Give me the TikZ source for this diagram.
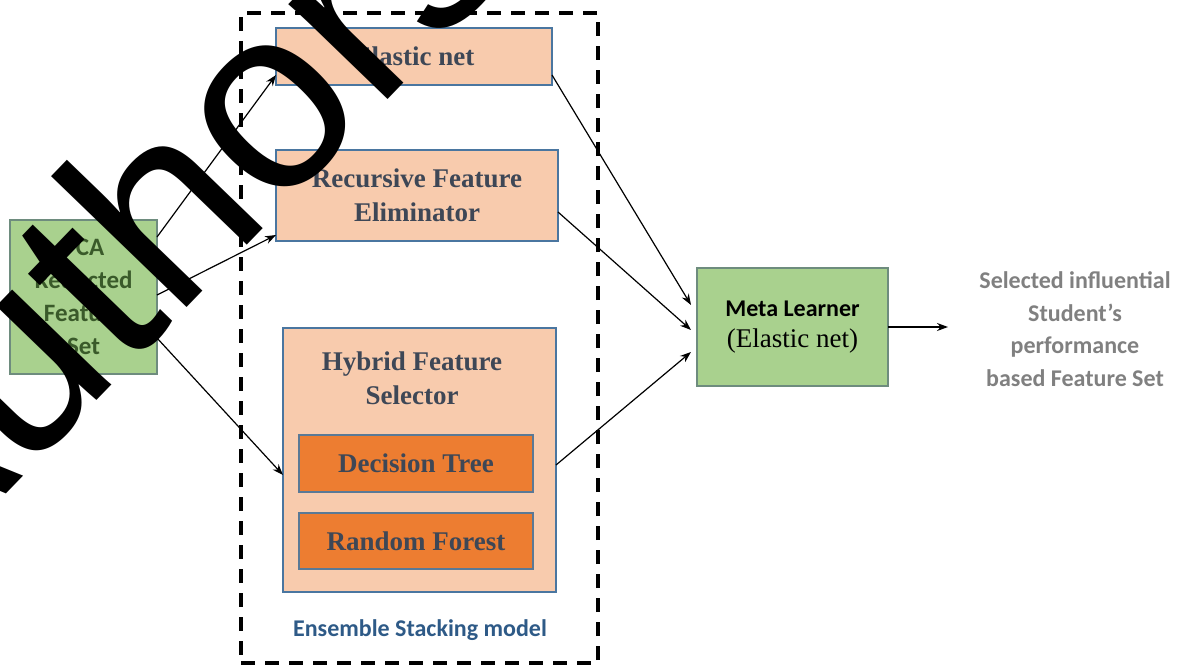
\documentclass[tikz,border=0pt]{standalone}
\usepackage{fontspec}
\setmainfont{Liberation Serif}
\newfontfamily\calfont{Carlito}
\newfontfamily\wmfont{Liberation Sans}
\usetikzlibrary{arrows.meta,calc}
\definecolor{peach}{HTML}{F8CBAD}
\definecolor{orng}{HTML}{ED7D31}
\definecolor{grn}{HTML}{A9D18E}
\definecolor{bluebd}{HTML}{4A76A0}
\definecolor{grnbd}{HTML}{6E8C7E}
\definecolor{slate}{HTML}{3E4756}
\definecolor{dkgrn}{HTML}{3A5A2A}
\definecolor{ensblue}{HTML}{2E5A87}
\definecolor{outgray}{HTML}{808080}
\tikzset{
  box/.style={draw, rectangle, inner sep=0pt, outer sep=0pt, align=center},
  peachbox/.style={box, fill=peach, draw=bluebd, line width=2.2pt, text=slate,
     font=\bfseries\fontsize{27}{34}\selectfont},
  orangebox/.style={box, fill=orng, draw=bluebd!70!gray, line width=2.2pt, text=slate,
     font=\bfseries\fontsize{27}{34}\selectfont},
  greenbox/.style={box, fill=grn, draw=grnbd, line width=1.5pt},
  arr/.style={-{Stealth[length=11pt,width=8pt]}, line width=1.2pt, black},
}
\begin{document}
\begin{tikzpicture}[x=1pt,y=-1pt]
\useasboundingbox (0,0) rectangle (1186,669);
\fill[white] (0,0) rectangle (1186,669);
% dashed ensemble frame
\node[draw, line width=4pt, dash pattern=on 14pt off 10pt, minimum width=357, minimum height=650,
  inner sep=0pt, outer sep=0pt] (frame) at (419.5,338) {};
\node[font=\calfont\bfseries\fontsize{24}{28}\selectfont, text=ensblue] (ens) at (420,630) {Ensemble Stacking model};
% base learners
\node[peachbox, minimum width=276, minimum height=57] (en) at (414,56.5) {Elastic net};
\node[peachbox, minimum width=282, minimum height=91] (rfe) at (417,195.5) {Recursive Feature\\Eliminator};
\node[peachbox, minimum width=273, minimum height=264] (hyb) at (419.5,460) {};
\node[font=\bfseries\fontsize{27}{34}\selectfont, text=slate, align=center] (hybt) at (412,378) {Hybrid Feature\\Selector};
\node[orangebox, minimum width=234, minimum height=57] (dt) at (416,463.5) {Decision Tree};
\node[orangebox, minimum width=234, minimum height=56] (rf) at (416,541) {Random Forest};
% PCA input
\node[greenbox, minimum width=147, minimum height=154, text=dkgrn,
  font=\calfont\bfseries\fontsize{25}{33}\selectfont] (pca) at (83.5,297) {PCA\\Reducted\\Feature\\Set};
% meta learner
\node[greenbox, minimum width=191, minimum height=118] (meta) at (792.5,327) {};
\node[align=center, font=\fontsize{27}{31}\selectfont] (metat) at (792.5,327) {{\calfont\bfseries\fontsize{24}{31}\selectfont Meta Learner}\\(Elastic net)};
% output text
\node[align=center, text=outgray, font=\calfont\bfseries\fontsize{24}{32.5}\selectfont] (out) at (1075,329) {Selected influential\\Student’s\\performance\\based Feature Set};
% connectors
\draw[arr] ($(pca.north east)+(0,17)$) -- ($(en.south west)+(0,-10)$);
\draw[arr] ($(pca.north east)+(0,75)$) -- ($(rfe.south west)+(0,-6)$);
\draw[arr] ($(pca.north east)+(0,118)$) -- ($(hyb.north west)+(0,147)$);
\draw[arr] ($(en.north east)+(0,47)$) -- ($(meta.north west)+(-6,37)$);
\draw[arr] ($(rfe.north east)+(0,62)$) -- ($(meta.north west)+(-6,62)$);
\draw[arr] ($(hyb.north west)+(273,137)$) -- ($(meta.south west)+(-6,-34)$);
\draw[arr] (meta.east) -- ($(meta.east)+(60,0)$);
% watermark
\node[rotate=46, anchor=base west, inner sep=0pt, text=black,
  font=\wmfont\fontsize{260}{260}\selectfont] (wm) at (-97,601) {Authors};
\end{tikzpicture}
\end{document}
